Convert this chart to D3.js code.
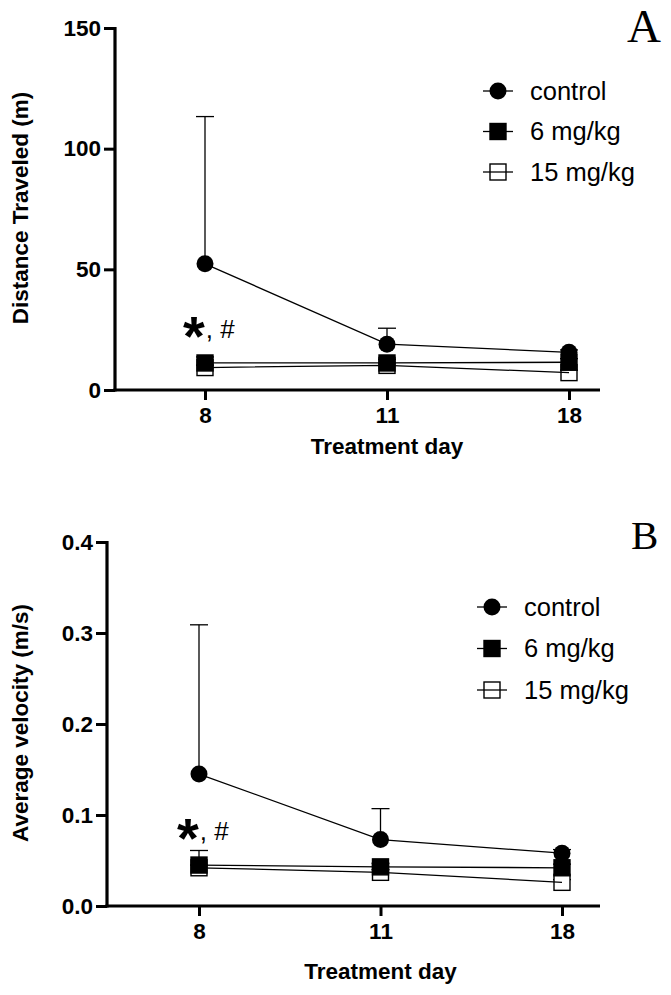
<!DOCTYPE html>
<html>
<head>
<meta charset="utf-8">
<script src="https://cdn.jsdelivr.net/npm/d3@7"></script>
<style>
body { margin: 0; background: #fff; }
text { font-family: "Liberation Sans", Arial, Helvetica, sans-serif; }
text.letter { font-family: "Liberation Serif", "Times New Roman", serif; }
</style>
</head>
<body>
<svg id="chart" width="671" height="995"></svg>
<script>
var days = ["8", "11", "18"];
var groups = ["control", "6 mg/kg", "15 mg/kg"];

// panel A: distance traveled (m), mean and upper error
var distControl = [52.3, 19.0, 15.6];
var distControlErr = [61.0, 6.6, 1.0];
var dist6 = [11.2, 11.2, 11.5];
var dist6Err = [2.5, 1.5, 1.5];
var dist15 = [9.3, 10.2, 7.2];
var dist15Err = [1.0, 1.0, 1.0];
var distTicks = [0, 50, 100, 150];

// panel B: average velocity (m/s)
var velControl = [0.145, 0.073, 0.058];
var velControlErr = [0.164, 0.034, 0.004];
var vel6 = [0.045, 0.043, 0.042];
var vel6Err = [0.016, 0.004, 0.004];
var vel15 = [0.042, 0.037, 0.026];
var vel15Err = [0.003, 0.003, 0.003];
var velTicks = [0, 0.1, 0.2, 0.3, 0.4];

var svg = d3.select("#chart");
svg.append("rect").attr("width", 671).attr("height", 995).attr("fill", "#fff");

function drawMarker(sel, kind) {
	if (kind == "circle") {
		sel.append("circle").attr("r", 8.5).attr("fill", "#000");
	} else {
		sel.append("rect")
			.attr("x", -8).attr("y", -8).attr("width", 16).attr("height", 16)
			.attr("fill", kind == "filled" ? "#000" : "#fff")
			.attr("stroke", "#000").attr("stroke-width", 1.4);
	}
}

function drawPanel(p) {
	var g = svg.append("g");
	var x = d3.scalePoint().domain(days).range(p.xRange);
	var y = d3.scaleLinear().domain([p.ticks[0], p.ticks[p.ticks.length - 1]]).range(p.yRange);
	var baseY = y(0);

	// y axis
	var ya = g.append("g")
		.attr("transform", "translate(" + p.axisX + ",0)")
		.call(d3.axisLeft(y).tickValues(p.ticks).tickFormat(p.fmt).tickSize(11).tickPadding(3).tickSizeOuter(0));
	ya.select(".domain").remove();
	ya.selectAll("line").attr("stroke-width", 3);
	ya.selectAll("text").attr("font-size", 22.5).attr("font-weight", "bold").attr("fill", "#000");

	// x axis
	var xa = g.append("g")
		.attr("transform", "translate(0," + baseY + ")")
		.call(d3.axisBottom(x).tickSize(10).tickPadding(7).tickSizeOuter(0));
	xa.select(".domain").remove();
	xa.selectAll("line").attr("stroke-width", 3);
	xa.selectAll("text").attr("font-size", 22.5).attr("font-weight", "bold").attr("fill", "#000");

	g.append("line")
		.attr("x1", p.axisX).attr("x2", p.axisX)
		.attr("y1", p.yRange[1] - 1).attr("y2", baseY + 1.5)
		.attr("stroke", "#000").attr("stroke-width", 3.2);
	g.append("line")
		.attr("x1", p.axisX - 1.6).attr("x2", 600)
		.attr("y1", baseY).attr("y2", baseY)
		.attr("stroke", "#000").attr("stroke-width", 3.2);

	// titles
	g.append("text")
		.attr("transform", "translate(" + p.yTitleX + "," + p.yTitleY + ") rotate(-90)")
		.attr("text-anchor", "middle").attr("font-size", 22.5).attr("font-weight", "bold")
		.text(p.yTitle);
	g.append("text")
		.attr("x", x(days[1])).attr("y", p.xTitleY)
		.attr("text-anchor", "middle").attr("font-size", 22.5).attr("font-weight", "bold")
		.text("Treatment day");

	g.append("text").attr("class", "letter")
		.attr("x", p.letterX).attr("y", p.letterY)
		.attr("font-size", p.letterSize).attr("fill", "#000")
		.text(p.letter);

	// error bars (upper only)
	var series = p.series.slice().reverse();
	series.forEach(function(s) {
		var eb = g.append("g").attr("stroke", "#000").attr("stroke-width", 1.3);
		s.values.forEach(function(v, i) {
			var cx = x(days[i]);
			var top = y(v + s.err[i]);
			eb.append("line").attr("x1", cx).attr("x2", cx).attr("y1", y(v)).attr("y2", top);
			eb.append("line").attr("x1", cx - 9).attr("x2", cx + 9).attr("y1", top).attr("y2", top);
		});
	});

	// markers
	series.forEach(function(s) {
		s.values.forEach(function(v, i) {
			var m = g.append("g").attr("transform", "translate(" + x(days[i]) + "," + y(v) + ")");
			drawMarker(m, s.kind);
		});
	});

	// connecting lines
	var line = d3.line().x(function(d, i) { return x(days[i]); }).y(function(d) { return y(d); });
	series.forEach(function(s) {
		g.append("path").attr("d", line(s.values))
			.attr("fill", "none").attr("stroke", "#000").attr("stroke-width", 1.3);
	});

	// significance mark at day 8
	var ay = y(p.annotValue);
	var note = g.append("text").attr("x", x(days[0]) - 22).attr("y", ay);
	note.append("tspan").attr("dy", 17).attr("font-size", 56).attr("font-weight", "bold").text("*");
	note.append("tspan").attr("dy", -17).attr("dx", 1).attr("font-size", 26).text(", #");

	// legend
	p.series.forEach(function(s, i) {
		var ly = p.legendY + i * p.legendStep;
		var lg = g.append("g").attr("transform", "translate(" + p.legendX + "," + ly + ")");
		lg.append("line").attr("x1", -15).attr("x2", 15).attr("stroke", "#000").attr("stroke-width", 1.3);
		drawMarker(lg, s.kind);
		if (s.kind == "open") {
			lg.append("line").attr("x1", -8).attr("x2", 8).attr("stroke", "#000").attr("stroke-width", 1.3);
		}
		lg.append("text").attr("x", 32).attr("y", 8.5).attr("font-size", 25.5).text(groups[i]);
	});
}

drawPanel({
	ticks: distTicks, fmt: d3.format("d"),
	xRange: [205, 569], yRange: [390, 28], axisX: 115,
	yTitle: "Distance Traveled (m)", yTitleX: 28, yTitleY: 208, xTitleY: 454,
	letter: "A", letterX: 627, letterY: 42, letterSize: 47,
	annotValue: 21.5,
	legendX: 498, legendY: 91, legendStep: 40.5,
	series: [
		{ values: distControl, err: distControlErr, kind: "circle" },
		{ values: dist6, err: dist6Err, kind: "filled" },
		{ values: dist15, err: dist15Err, kind: "open" }
	]
});

drawPanel({
	ticks: velTicks, fmt: d3.format(".1f"),
	xRange: [199, 562], yRange: [906, 542], axisX: 107,
	yTitle: "Average velocity (m/s)", yTitleX: 28, yTitleY: 723, xTitleY: 979,
	letter: "B", letterX: 631, letterY: 549, letterSize: 41,
	annotValue: 0.073,
	legendX: 492, legendY: 607, legendStep: 41.5,
	series: [
		{ values: velControl, err: velControlErr, kind: "circle" },
		{ values: vel6, err: vel6Err, kind: "filled" },
		{ values: vel15, err: vel15Err, kind: "open" }
	]
});
</script>
</body>
</html>
